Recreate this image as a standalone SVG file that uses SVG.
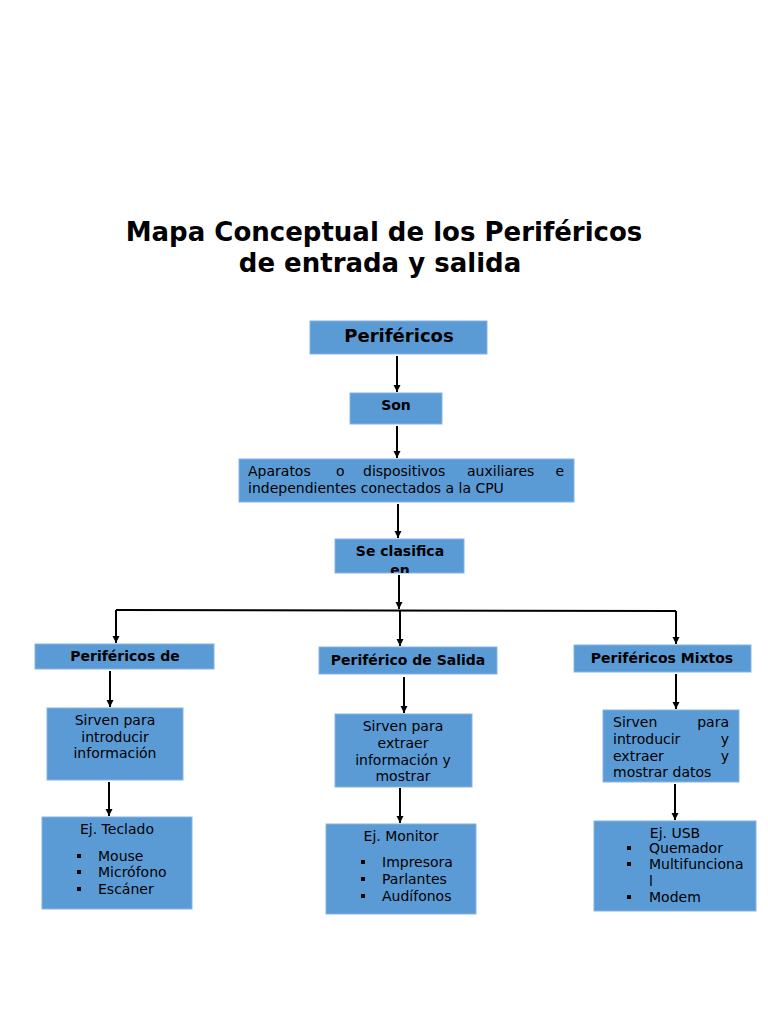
<svg xmlns="http://www.w3.org/2000/svg" width="768" height="1024" viewBox="0 0 768 1024">
<defs>
<marker id="ah" markerWidth="8" markerHeight="8" refX="7" refY="4" orient="auto" markerUnits="userSpaceOnUse">
<path d="M0,0.5 L7,4 L0,7.5 Z" fill="#000"/>
</marker>
<clipPath id="clipSe"><rect x="335" y="539" width="129" height="34"/></clipPath>
<style>
.box{fill:#5b9bd5;stroke:#86b4e2;stroke-width:1}
.t{font-family:"DejaVu Sans","Liberation Sans",sans-serif;font-size:14px;fill:#000}
.b{font-weight:bold}
.c{text-anchor:middle}
.e{text-anchor:end}
.title{font-family:"DejaVu Sans","Liberation Sans",sans-serif;font-size:26px;font-weight:bold;text-anchor:middle;fill:#000}
.ln{stroke:#000;stroke-width:2;fill:none}
.arr{stroke:#000;stroke-width:2;fill:none;marker-end:url(#ah)}
.bul{fill:#000}
</style>
</defs>
<rect width="768" height="1024" fill="#fff"/>
<g id="title">
<text class="title" x="384" y="241">Mapa Conceptual de los Periféricos</text>
<text class="title" x="380" y="272">de entrada y salida</text>
</g>
<g id="connectors">
<line class="arr" x1="397" y1="356" x2="397" y2="392"/>
<line class="arr" x1="397" y1="426" x2="397" y2="458"/>
<line class="arr" x1="398" y1="504" x2="398" y2="538"/>
<line class="arr" x1="399" y1="575" x2="399" y2="609"/>
<line class="ln" x1="116" y1="610" x2="676" y2="611"/>
<line class="arr" x1="116" y1="610" x2="116" y2="643"/>
<line class="arr" x1="400" y1="611" x2="400" y2="646"/>
<line class="arr" x1="676" y1="611" x2="676" y2="644"/>
<line class="arr" x1="110" y1="671" x2="110" y2="707"/>
<line class="arr" x1="404" y1="677" x2="404" y2="713"/>
<line class="arr" x1="676" y1="674" x2="676" y2="709"/>
<line class="arr" x1="109" y1="782" x2="109" y2="816"/>
<line class="arr" x1="400" y1="788" x2="400" y2="823"/>
<line class="arr" x1="675" y1="784" x2="675" y2="820"/>
</g>
<g id="perifericos">
<rect class="box" x="310" y="321" width="177" height="33"/>
<text class="t b c" x="399" y="342" style="font-size:18px">Periféricos</text>
</g>
<g id="son">
<rect class="box" x="350" y="393" width="92" height="31"/>
<text class="t b c" x="396" y="410">Son</text>
</g>
<g id="aparatos">
<rect class="box" x="239" y="459" width="335" height="43"/>
<text class="t" x="248" y="476">Aparatos</text>
<text class="t" x="336" y="476">o</text>
<text class="t" x="363" y="476">dispositivos</text>
<text class="t" x="467" y="476">auxiliares</text>
<text class="t e" x="564" y="476">e</text>
<text class="t" x="248" y="493">independientes conectados a la CPU</text>
</g>
<g id="seclasifica">
<rect class="box" x="335" y="539" width="129" height="34"/>
<g clip-path="url(#clipSe)">
<text class="t b c" x="400" y="556">Se clasifica</text>
<text class="t b c" x="400" y="575">en</text>
</g>
</g>
<g id="entrada">
<rect class="box" x="35" y="644" width="179" height="25"/>
<text class="t b c" x="125" y="661">Periféricos de</text>
</g>
<g id="salida">
<rect class="box" x="319" y="647" width="178" height="27"/>
<text class="t b c" x="408" y="665">Periférico de Salida</text>
</g>
<g id="mixtos">
<rect class="box" x="574" y="645" width="177" height="27"/>
<text class="t b c" x="662" y="663">Periféricos Mixtos</text>
</g>
<g id="desc-entrada">
<rect class="box" x="47" y="708" width="136" height="72"/>
<text class="t c" x="115" y="725">Sirven para</text>
<text class="t c" x="115" y="742">introducir</text>
<text class="t c" x="115" y="758">información</text>
</g>
<g id="desc-salida">
<rect class="box" x="335" y="714" width="137" height="73"/>
<text class="t c" x="403" y="731">Sirven para</text>
<text class="t c" x="403" y="748">extraer</text>
<text class="t c" x="403" y="765">información y</text>
<text class="t c" x="403" y="781">mostrar</text>
</g>
<g id="desc-mixtos">
<rect class="box" x="603" y="710" width="136" height="72"/>
<text class="t" x="613" y="727">Sirven</text>
<text class="t e" x="729" y="727">para</text>
<text class="t" x="613" y="744">introducir</text>
<text class="t e" x="729" y="744">y</text>
<text class="t" x="613" y="761">extraer</text>
<text class="t e" x="729" y="761">y</text>
<text class="t" x="613" y="777">mostrar datos</text>
</g>
<g id="ej-entrada">
<rect class="box" x="42" y="817" width="150" height="92"/>
<text class="t c" x="117" y="834">Ej. Teclado</text>
<rect class="bul" x="77" y="854" width="4" height="4"/>
<rect class="bul" x="77" y="870" width="4" height="4"/>
<rect class="bul" x="77" y="887" width="4" height="4"/>
<text class="t" x="98" y="861">Mouse</text>
<text class="t" x="98" y="877">Micrófono</text>
<text class="t" x="98" y="894">Escáner</text>
</g>
<g id="ej-salida">
<rect class="box" x="326" y="824" width="150" height="90"/>
<text class="t c" x="401" y="841">Ej. Monitor</text>
<rect class="bul" x="361" y="860" width="4" height="4"/>
<rect class="bul" x="361" y="877" width="4" height="4"/>
<rect class="bul" x="361" y="894" width="4" height="4"/>
<text class="t" x="382" y="867">Impresora</text>
<text class="t" x="382" y="884">Parlantes</text>
<text class="t" x="382" y="901">Audífonos</text>
</g>
<g id="ej-mixtos">
<rect class="box" x="594" y="821" width="162" height="90"/>
<text class="t c" x="675" y="838">Ej. USB</text>
<rect class="bul" x="627" y="846" width="4" height="4"/>
<rect class="bul" x="627" y="862" width="4" height="4"/>
<rect class="bul" x="627" y="895" width="4" height="4"/>
<text class="t" x="649" y="853">Quemador</text>
<text class="t" x="649" y="869">Multifunciona</text>
<text class="t" x="649" y="886">l</text>
<text class="t" x="649" y="902">Modem</text>
</g>
</svg>
